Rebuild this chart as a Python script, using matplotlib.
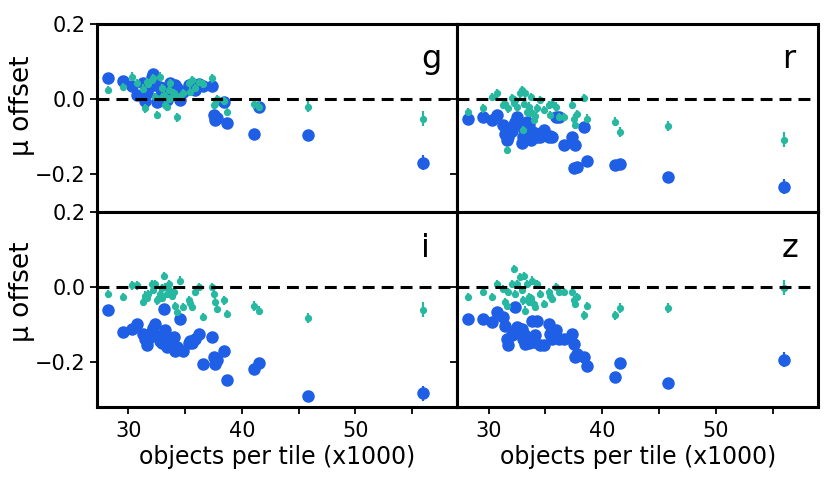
import matplotlib
matplotlib.use("Agg")
import matplotlib.pyplot as plt

# tiles (x1000 objects) shared by all four filters
tile_x = [28.2, 29.55, 30.3, 30.75, 31.3, 31.45, 31.6, 31.75, 32.05, 32.2, 32.35,
          32.5, 32.8, 32.95, 33.0, 33.1, 33.25, 33.4, 33.55, 33.6, 33.7, 33.85,
          34.0, 34.1, 34.3, 34.55, 34.85, 35.3, 35.45, 35.6, 35.9, 36.2, 36.6,
          37.35, 37.5, 37.65, 37.8, 38.4, 38.7, 41.1, 41.55, 45.8, 56.0]

blue_err = [0.008] * 39 + [0.012, 0.012, 0.012, 0.02]
teal_err = [0.011] * 39 + [0.013, 0.013, 0.014, 0.02]

g_blue = [0.055, 0.049, 0.035, 0.011, 0.042, -0.004, 0.015, 0.030, 0.060, 0.068, 0.037,
          -0.007, 0.033, 0.020, 0.015, 0.025, 0.020, -0.003, 0.010, 0.030, 0.042, 0.015,
          0.025, 0.037, 0.030, -0.003, 0.020, 0.037, 0.030, 0.035, 0.025, 0.040, 0.035,
          0.035, -0.043, -0.056, -0.050, -0.007, -0.063, -0.092, -0.022, -0.095, -0.170]
g_teal = [0.024, 0.033, 0.060, 0.042, 0.028, -0.025, 0.046, 0.040, 0.051, 0.055, 0.006,
          -0.043, 0.060, 0.006, 0.030, 0.010, -0.016, -0.020, 0.025, 0.000, 0.042, 0.006,
          0.015, 0.011, -0.049, 0.006, 0.015, 0.042, 0.020, 0.050, 0.030, 0.045, 0.040,
          0.055, -0.016, -0.012, 0.000, -0.005, -0.034, -0.013, -0.020, -0.020, -0.052]

r_blue = [-0.052, -0.047, -0.056, -0.043, -0.069, -0.092, -0.109, -0.100, -0.085, -0.070, -0.060,
          -0.047, -0.065, -0.118, -0.100, -0.080, -0.078, -0.060, -0.070, -0.087, -0.110, -0.087,
          -0.096, -0.090, -0.100, -0.100, -0.083, -0.100, -0.098, -0.100, -0.047, -0.047, -0.123,
          -0.100, -0.185, -0.123, -0.180, -0.074, -0.164, -0.176, -0.173, -0.207, -0.234]
r_teal = [-0.034, -0.025, 0.006, 0.015, -0.016, -0.012, -0.136, -0.025, 0.002, -0.010, -0.003,
          -0.020, 0.015, 0.024, -0.083, -0.012, 0.015, -0.034, -0.038, -0.020, 0.005, -0.038,
          -0.056, -0.045, -0.025, -0.003, -0.029, -0.016, -0.043, -0.012, -0.020, -0.047, -0.047,
          -0.016, -0.052, -0.069, -0.040, 0.002, -0.052, -0.060, -0.087, -0.072, -0.108]

i_blue = [-0.062, -0.122, -0.113, -0.100, -0.126, -0.140, -0.157, -0.140, -0.120, -0.110, -0.100,
          -0.131, -0.145, -0.131, -0.150, -0.060, -0.117, -0.162, -0.144, -0.155, -0.150, -0.162,
          -0.135, -0.171, -0.160, -0.086, -0.171, -0.150, -0.144, -0.150, -0.140, -0.126, -0.206,
          -0.135, -0.188, -0.206, -0.195, -0.171, -0.249, -0.219, -0.205, -0.291, -0.284]
i_teal = [-0.020, -0.028, 0.003, 0.003, -0.042, -0.024, -0.030, -0.020, 0.007, -0.010, 0.007,
          -0.037, -0.020, -0.005, -0.030, 0.029, -0.002, -0.020, 0.007, -0.010, -0.015, -0.025,
          -0.015, -0.051, -0.068, 0.016, -0.055, -0.037, -0.045, -0.055, -0.015, -0.002, -0.082,
          -0.002, -0.020, -0.042, -0.060, -0.037, -0.073, -0.051, -0.064, -0.084, -0.062]

z_blue = [-0.086, -0.086, -0.095, -0.068, -0.082, -0.104, -0.140, -0.157, -0.130, -0.120, -0.055,
          -0.108, -0.113, -0.113, -0.140, -0.126, -0.153, -0.140, -0.144, -0.150, -0.144, -0.091,
          -0.148, -0.130, -0.091, -0.157, -0.157, -0.100, -0.126, -0.140, -0.117, -0.140, -0.140,
          -0.126, -0.153, -0.188, -0.180, -0.188, -0.211, -0.240, -0.204, -0.257, -0.195]
z_teal = [-0.028, -0.015, -0.028, 0.007, -0.006, -0.042, -0.051, -0.015, 0.007, 0.047, -0.020,
          0.007, 0.025, -0.010, -0.037, 0.029, -0.064, 0.007, -0.028, -0.040, -0.030, 0.016,
          -0.046, -0.055, 0.007, -0.020, -0.046, -0.015, -0.024, -0.033, -0.002, -0.015, -0.015,
          -0.015, -0.037, -0.046, -0.028, -0.077, -0.051, -0.077, -0.057, -0.057, -0.003]

panels = [("g", g_blue, g_teal), ("r", r_blue, r_teal),
          ("i", i_blue, i_teal), ("z", z_blue, z_teal)]

BLUE = "#1f5fe6"
TEAL = "#27b8a2"

fig = plt.figure(figsize=(8.3, 4.83), dpi=100)
W, H = 830.0, 483.0
# axes boxes in pixels: left, top, right, bottom
boxes = [(97.3, 24, 457.3, 211.5), (457.3, 24, 818, 211.5),
         (97.3, 211.5, 457.3, 407), (457.3, 211.5, 818, 407)]
ylims = [(-0.3, 0.2), (-0.3, 0.2), (-0.321, 0.2), (-0.321, 0.2)]
ylabel_y = [0.563, None, 0.588, None]

for k, (name, by, ty) in enumerate(panels):
    l, t, r, b = boxes[k]
    ax = fig.add_axes([l / W, 1 - b / H, (r - l) / W, (b - t) / H])
    ax.errorbar(tile_x, by, yerr=blue_err, fmt="o", color=BLUE, ms=8,
                elinewidth=1.6, capsize=0, zorder=2)
    ax.errorbar(tile_x, ty, yerr=teal_err, fmt="o", color=TEAL, ms=4.2,
                elinewidth=1.6, capsize=0, zorder=3)
    ax.axhline(0, color="black", lw=2.2, ls=(0, (3.9, 2.3)), zorder=4)
    ax.set_xlim(27.25, 59.0)
    ax.set_ylim(*ylims[k])
    ax.set_xticks([30, 40, 50])
    ax.set_xticks([35, 45, 55], minor=True)
    ax.set_yticks([-0.2, 0.0, 0.2])
    for s in ax.spines.values():
        s.set_linewidth(2.2)
    ax.tick_params(which="both", direction="out", length=5, width=1.3,
                   labelsize=15)
    ax.tick_params(axis="x", pad=5)
    ax.text(0.9, 0.765, name, transform=ax.transAxes, fontsize=23,
            ha="left", va="baseline")
    if k % 2 == 0:
        ax.set_ylabel("\u03bc offset", fontsize=19)
        ax.yaxis.set_label_coords(-0.173, ylabel_y[k])
        ax.set_yticklabels(["\u22120.2", "0.0", "0.2"])
    else:
        ax.set_yticklabels([])
    if k >= 2:
        ax.set_xlabel("objects per tile (x1000)", fontsize=17, labelpad=3)
    else:
        ax.set_xticklabels([])

fig.savefig("out.png", dpi=100)
